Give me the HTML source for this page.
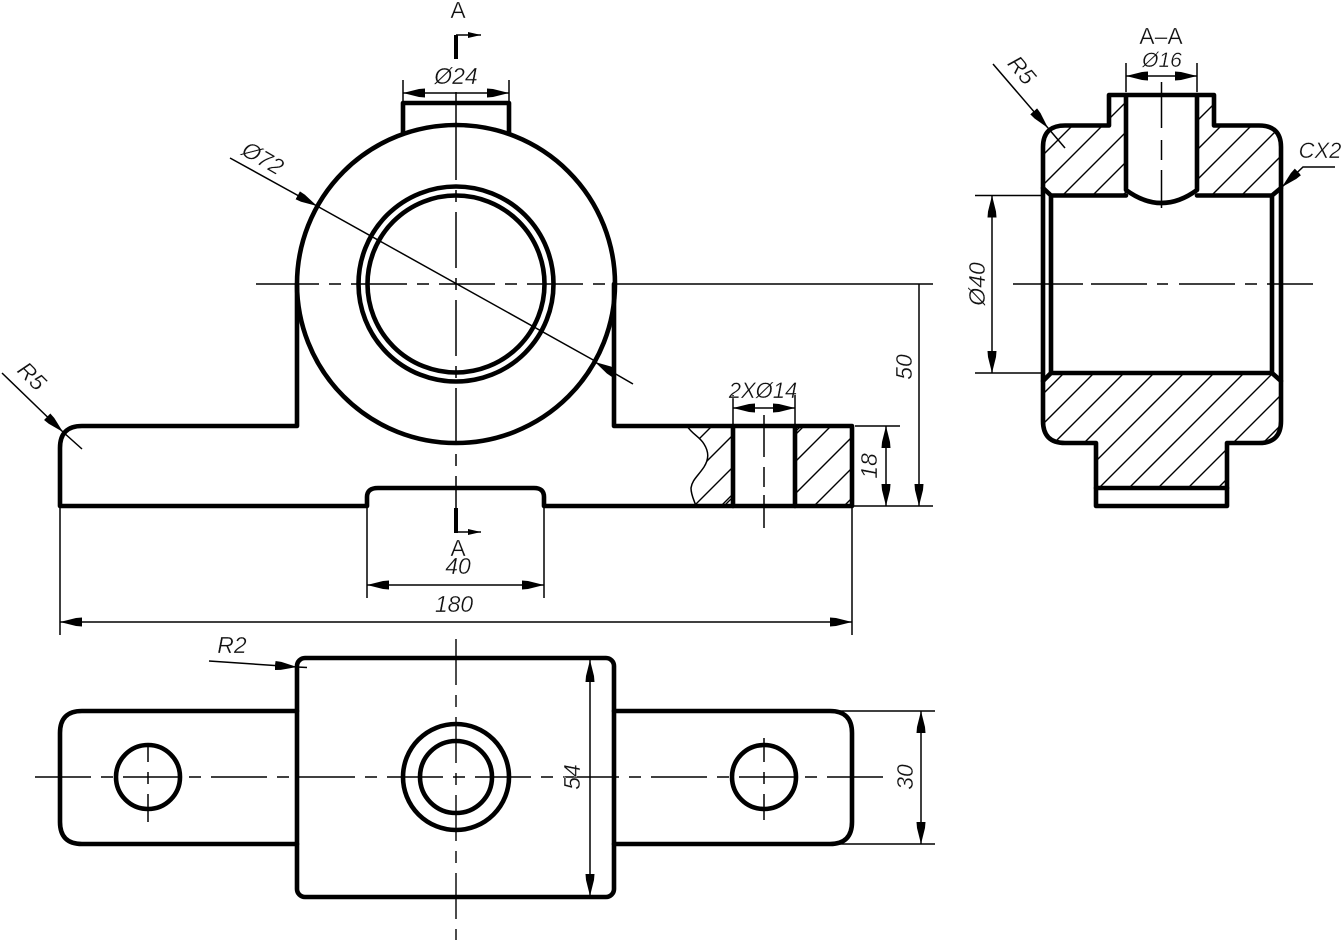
<!DOCTYPE html>
<html><head><meta charset="utf-8"><style>
html,body{margin:0;padding:0;background:#fff}
svg{display:block}
text{font-family:"Liberation Sans",sans-serif;font-style:italic;font-size:23px;fill:#111;text-anchor:middle;stroke:#fff;stroke-width:.35px;paint-order:normal}
text.u{font-style:normal;font-size:23px}
.k{fill:none;stroke:#000;stroke-width:4.6;stroke-linejoin:round;stroke-linecap:round}
.t{fill:none;stroke:#000;stroke-width:1.5}
.h{fill:none;stroke:#000;stroke-width:1.4}
.c{fill:none;stroke:#000;stroke-width:1.4;stroke-dasharray:56 10 12 10}
</style></head><body>
<svg xmlns="http://www.w3.org/2000/svg" width="1342" height="942" viewBox="0 0 1342 942">
<defs>
<marker id="a" markerUnits="userSpaceOnUse" markerWidth="24" markerHeight="12" refX="22" refY="6" orient="auto-start-reverse" viewBox="0 0 24 12"><path d="M0 1.500 L6 2 L22 6 L6 10 L0 10.500Z" fill="#000"/></marker>
<marker id="s" markerUnits="userSpaceOnUse" markerWidth="14" markerHeight="8" refX="13" refY="4" orient="auto" viewBox="0 0 14 8"><path d="M0 1 L13 4 L0 7Z" fill="#000"/></marker>
<clipPath id="h1"><path d="M1043 188V147Q1043 125.500 1065 125.500H1109V95H1126V190Q1128 193 1126 195.500H1051Z"/><path d="M1197 95H1214V125.500H1259Q1281 125.500 1281 147V188L1272 195.500H1197Z"/><path d="M1051 373H1272L1281 381V421Q1281 443 1259 443H1227V488H1096V443H1065Q1043 443 1043 421V381Z"/></clipPath>
<clipPath id="h2"><path d="M795 426H852V506H795Z"/><path d="M687 426C692 434 700 437 704 444C709 452 709 459 704 467C698 476 692 480 691 488C691 495 694 500 696 506H733V426Z"/></clipPath>
</defs>

<!-- hatching section -->
<path class="h" clip-path="url(#h1)" d="M1000 198L1300 -102M1000 228L1300 -72M1000 258L1300 -42M1000 288L1300 -12M1000 318L1300 18M1000 347L1300 47M1000 377L1300 77M1000 407L1300 107M1000 437L1300 137M1000 467L1300 167M1000 497L1300 197M1000 527L1300 227M1000 557L1300 257M1000 587L1300 287M1000 617L1300 317M1000 646L1300 346M1000 676L1300 376M1000 706L1300 406"/>
<!-- hatching front -->
<path class="h" clip-path="url(#h2)" d="M680 458L860 278M680 488L860 308M680 520L860 340M680 550L860 370M680 547L860 367M680 577L860 397M680 609L860 429M680 640L860 460M680 670L860 490"/>
<path d="M687 426C692 434 700 437 704 444C709 452 709 459 704 467C698 476 692 480 691 488C691 495 694 500 696 506" fill="none" stroke="#000" stroke-width="1.5"/>

<!-- center lines -->
<path class="t" d="M256 284H263"/>
<path class="c" d="M263 284H605"/>
<path class="t" d="M615 284H933"/>
<path class="t" d="M456 92V180M456 190V202M456 212V268M456 278V290M456 300V356M456 366V378M456 388V444M456 454V466M456 476V508"/>
<path class="c" d="M35 777H883"/>
<path class="c" style="stroke-dasharray:46 10 12 10" d="M456 639V940"/>
<path class="t" d="M148 743V762M148 772V784M148 794V822M764 738V762M764 772V784M764 794V820"/>
<path class="t" d="M1013 284H1083M1091 284H1147M1157 284H1168M1179 284H1235M1245 284H1257M1267 284H1313"/>
<path class="t" d="M1161.500 82V128M1161.500 140V160M1161.500 170V208"/>
<path class="t" d="M764 415V457M764 467V487M764 495V528"/>

<!-- front view -->
<path class="k" d="M297 284V426H82Q60 426 60 448V506H367V497Q367 488 378 488H534Q544 488 544 497V506H852V426H614V284"/>
<path class="k" d="M403 133V103H509V133"/>
<circle class="k" cx="456" cy="284" r="159"/>
<circle class="k" cx="456" cy="284" r="97.500"/>
<circle class="k" cx="456" cy="284" r="88.500"/>
<path class="k" d="M733 426V506M795 426V506"/>

<!-- top view -->
<path class="k" d="M297 711H82Q60 711 60 733V822Q60 844 82 844H297"/>
<path class="k" d="M614 711H830Q852 711 852 733V822Q852 844 830 844H614"/>
<rect class="k" x="297" y="658" width="317" height="239" rx="8" ry="8"/>
<circle class="k" cx="148" cy="777" r="32"/>
<circle class="k" cx="764" cy="777" r="32"/>
<circle class="k" cx="456" cy="777" r="53"/>
<circle class="k" cx="456" cy="777" r="36"/>

<!-- section view -->
<path class="k" d="M1043 147Q1043 125.500 1065 125.500H1109V95H1214V125.500H1259Q1281 125.500 1281 147V421Q1281 443 1259 443H1227V506H1096V443H1065Q1043 443 1043 421Z"/>
<path class="k" d="M1051 195.500V373M1272 195.500V373M1043 188L1051 195.500H1126M1197 195.500H1272L1281 188M1043 381L1051 373H1272L1281 381"/>
<path class="k" d="M1126 95V190Q1161.500 216 1197 190V95M1096 488H1227"/>

<!-- section markers -->
<path d="M456 35V59M456 508V533" stroke="#000" stroke-width="4" fill="none"/>
<path class="t" d="M456 35H481" marker-end="url(#s)"/>
<path class="t" d="M456 532H481" marker-end="url(#s)"/>

<!-- dimensions -->
<path class="t" d="M403 80V103M509 80V103M1126 63V92M1197 63V92M733 395V426M795 395V426"/>
<path class="t" d="M367 506V598M544 506V598M60 506V635M852 506V635"/>
<path class="t" d="M855 426H900M852 506H933M835 711H935M835 844H935M975 195.500H1044M975 373H1044"/>
<path class="t" d="M403 93H509" marker-start="url(#a)" marker-end="url(#a)"/>
<path class="t" d="M1126 76H1197" marker-start="url(#a)" marker-end="url(#a)"/>
<path class="t" d="M733 408H795" marker-start="url(#a)" marker-end="url(#a)"/>
<path class="t" d="M367 585H544" marker-start="url(#a)" marker-end="url(#a)"/>
<path class="t" d="M60 622H852" marker-start="url(#a)" marker-end="url(#a)"/>
<path class="t" d="M886 426V506" marker-start="url(#a)" marker-end="url(#a)"/>
<path class="t" d="M919 284V506" marker-end="url(#a)"/>
<path class="t" d="M921 711V844" marker-start="url(#a)" marker-end="url(#a)"/>
<path class="t" d="M590 660V896" marker-start="url(#a)" marker-end="url(#a)"/>
<path class="t" d="M992 195.500V373" marker-start="url(#a)" marker-end="url(#a)"/>

<!-- leaders -->
<path class="t" d="M230 158L317 206" marker-end="url(#a)"/>
<path class="t" d="M317 206L595 361"/>
<path class="t" d="M633 384L595 362" marker-end="url(#a)"/>
<path class="t" d="M2 373L63 432" marker-end="url(#a)"/>
<path class="t" d="M63 432L82 449"/>
<path class="t" d="M993 64L1048 128" marker-end="url(#a)"/>
<path class="t" d="M1048 128L1065 148"/>
<path class="t" d="M1335 167H1303L1282 187" marker-end="url(#a)"/>
<path class="t" d="M209 661L297 667" marker-end="url(#a)"/>
<path class="t" d="M297 667L307 667.500"/>

<!-- labels -->
<text class="u" x="458" y="18">A</text>
<text class="u" x="458" y="556">A</text>
<text class="u" x="1161" y="44">A–A</text>
<text x="456" y="84">Ø24</text>
<text x="1162" y="67" style="font-size:21px">Ø16</text>
<text x="763" y="398" style="font-size:22px">2XØ14</text>
<text x="458" y="574">40</text>
<text x="454" y="612">180</text>
<text x="232" y="653">R2</text>
<text x="1320" y="158" style="font-size:22px">CX2</text>
<text transform="translate(32,376) rotate(45)" y="8">R5</text>
<text transform="translate(1022,70) rotate(50)" y="8">R5</text>
<text transform="translate(263,158) rotate(30)" y="8">Ø72</text>
<text transform="translate(904,367) rotate(-90)" y="8">50</text>
<text transform="translate(869,466) rotate(-90)" y="8">18</text>
<text transform="translate(572,777) rotate(-90)" y="8">54</text>
<text transform="translate(905,777) rotate(-90)" y="8">30</text>
<text transform="translate(977,284) rotate(-90)" y="8">Ø40</text>
</svg>
</body></html>
